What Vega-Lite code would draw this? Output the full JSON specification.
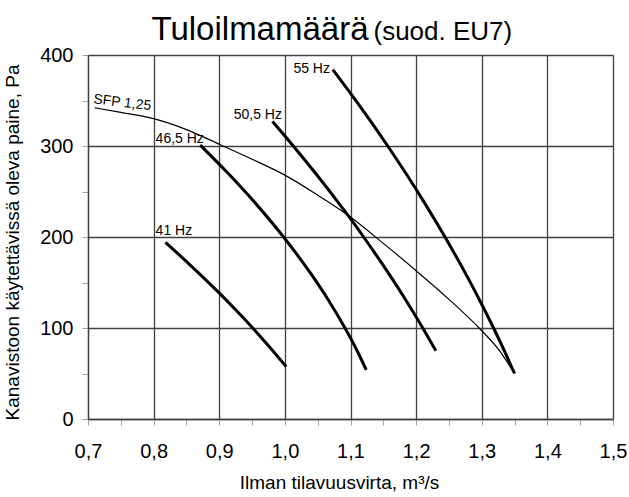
{
  "$schema": "https://vega.github.io/schema/vega-lite/v6.json",
  "autosize": "none",
  "width": 525,
  "height": 364,
  "padding": {"left": 88, "top": 55, "right": 16, "bottom": 78},
  "background": "white",
  "config": {
    "font": "Liberation Sans",
    "view": {"stroke": null},
    "axis": {"labelColor": "black", "titleColor": "black", "titleFontWeight": "normal"}
  },
  "datasets": {
    "curves": [
      {"curve": "41 Hz", "v": 0.818, "p": 194},
      {"curve": "41 Hz", "v": 0.8546, "p": 170},
      {"curve": "41 Hz", "v": 0.9006, "p": 138},
      {"curve": "41 Hz", "v": 0.925, "p": 120},
      {"curve": "41 Hz", "v": 0.951, "p": 100},
      {"curve": "41 Hz", "v": 0.9757, "p": 80},
      {"curve": "41 Hz", "v": 1.002, "p": 57.5},
      {"curve": "46,5 Hz", "v": 0.871, "p": 301},
      {"curve": "46,5 Hz", "v": 0.9134, "p": 270},
      {"curve": "46,5 Hz", "v": 0.9516, "p": 240},
      {"curve": "46,5 Hz", "v": 0.998, "p": 200},
      {"curve": "46,5 Hz", "v": 1.0393, "p": 160},
      {"curve": "46,5 Hz", "v": 1.0669, "p": 130},
      {"curve": "46,5 Hz", "v": 1.0916, "p": 100},
      {"curve": "46,5 Hz", "v": 1.1101, "p": 75},
      {"curve": "46,5 Hz", "v": 1.124, "p": 54},
      {"curve": "50,5 Hz", "v": 0.981, "p": 327},
      {"curve": "50,5 Hz", "v": 1.0128, "p": 300},
      {"curve": "50,5 Hz", "v": 1.0467, "p": 270},
      {"curve": "50,5 Hz", "v": 1.0791, "p": 240},
      {"curve": "50,5 Hz", "v": 1.098, "p": 222},
      {"curve": "50,5 Hz", "v": 1.12, "p": 200},
      {"curve": "50,5 Hz", "v": 1.1581, "p": 160},
      {"curve": "50,5 Hz", "v": 1.1849, "p": 130},
      {"curve": "50,5 Hz", "v": 1.2101, "p": 100},
      {"curve": "50,5 Hz", "v": 1.23, "p": 75},
      {"curve": "55 Hz", "v": 1.073, "p": 384},
      {"curve": "55 Hz", "v": 1.0979, "p": 360},
      {"curve": "55 Hz", "v": 1.1279, "p": 330},
      {"curve": "55 Hz", "v": 1.1567, "p": 300},
      {"curve": "55 Hz", "v": 1.1843, "p": 270},
      {"curve": "55 Hz", "v": 1.2107, "p": 240},
      {"curve": "55 Hz", "v": 1.244, "p": 200},
      {"curve": "55 Hz", "v": 1.2752, "p": 160},
      {"curve": "55 Hz", "v": 1.2972, "p": 130},
      {"curve": "55 Hz", "v": 1.318, "p": 100},
      {"curve": "55 Hz", "v": 1.3376, "p": 70},
      {"curve": "55 Hz", "v": 1.35, "p": 50},
      {"curve": "SFP 1,25", "v": 0.71, "p": 342},
      {"curve": "SFP 1,25", "v": 0.75, "p": 337},
      {"curve": "SFP 1,25", "v": 0.8, "p": 330},
      {"curve": "SFP 1,25", "v": 0.85, "p": 318},
      {"curve": "SFP 1,25", "v": 0.9, "p": 302},
      {"curve": "SFP 1,25", "v": 0.95, "p": 285.5},
      {"curve": "SFP 1,25", "v": 1.0, "p": 268},
      {"curve": "SFP 1,25", "v": 1.05, "p": 246},
      {"curve": "SFP 1,25", "v": 1.1, "p": 222},
      {"curve": "SFP 1,25", "v": 1.15, "p": 193},
      {"curve": "SFP 1,25", "v": 1.2, "p": 163},
      {"curve": "SFP 1,25", "v": 1.25, "p": 131.5},
      {"curve": "SFP 1,25", "v": 1.3, "p": 97},
      {"curve": "SFP 1,25", "v": 1.325, "p": 77},
      {"curve": "SFP 1,25", "v": 1.349, "p": 51}
    ],
    "labels": [
      {"label": "41 Hz", "v": 0.803, "p": 202},
      {"label": "46,5 Hz", "v": 0.803, "p": 303},
      {"label": "50,5 Hz", "v": 0.922, "p": 330},
      {"label": "55 Hz", "v": 1.013, "p": 380}
    ],
    "sfp": [
      {"label": "SFP 1,25", "v": 0.7076, "p": 347}
    ]
  },
  "layer": [
    {
      "data": {"name": "curves"},
      "transform": [{"filter": "datum.curve !== 'SFP 1,25'"}],
      "mark": {"type": "line", "interpolate": "monotone", "color": "black", "strokeWidth": 3, "strokeCap": "butt"},
      "encoding": {
        "x": {
          "field": "v", "type": "quantitative",
          "scale": {"domain": [0.7, 1.5], "nice": false, "zero": false},
          "axis": {
            "orient": "bottom",
            "values": [0.7, 0.75, 0.8, 0.85, 0.9, 0.95, 1.0, 1.05, 1.1, 1.15, 1.2, 1.25, 1.3, 1.35, 1.4, 1.45, 1.5],
            "labelExpr": "round(datum.value*100) % 10 === 0 ? replace(format(datum.value, '.1f'), '.', ',') : ''",
            "labelFontSize": 20,
            "labelPadding": 16,
            "labelFlush": false,
            "labelOverlap": false,
            "tickSize": 6,
            "tickColor": "#a0a0a0",
            "tickWidth": 1,
            "domainColor": "#404040",
            "domainWidth": 1.3,
            "grid": true,
            "gridColor": "#404040",
            "gridWidth": 1.3,
            "gridOpacity": {"condition": {"test": "round(datum.value*100) % 10 !== 0", "value": 0}, "value": 1},
            "title": "Ilman tilavuusvirta, m³/s",
            "titleFontSize": 19,
            "titleX": 251,
            "titleY": 69,
            "titleAlign": "center",
            "titleBaseline": "alphabetic"
          }
        },
        "y": {
          "field": "p", "type": "quantitative",
          "scale": {"domain": [0, 400], "nice": false},
          "axis": {
            "orient": "left",
            "values": [0, 50, 100, 150, 200, 250, 300, 350, 400],
            "labelExpr": "datum.value % 100 === 0 ? datum.label : ''",
            "labelFontSize": 20,
            "labelPadding": 9,
            "labelOverlap": false,
            "labelFlush": false,
            "tickSize": 6,
            "tickColor": "#a0a0a0",
            "tickWidth": 1,
            "domainColor": "#404040",
            "domainWidth": 1.3,
            "grid": true,
            "gridColor": "#404040",
            "gridWidth": 1.3,
            "gridOpacity": {"condition": {"test": "datum.value % 100 !== 0", "value": 0}, "value": 1},
            "title": "Kanavistoon käytettävissä oleva paine, Pa",
            "titleFontSize": 19,
            "titleAngle": -90,
            "titleX": -76,
            "titleY": 187,
            "titleAlign": "center",
            "titleBaseline": "middle"
          }
        },
        "detail": {"field": "curve"}
      }
    },
    {
      "data": {"name": "curves"},
      "transform": [{"filter": "datum.curve === 'SFP 1,25'"}],
      "mark": {"type": "line", "interpolate": "monotone", "color": "black", "strokeWidth": 1.2},
      "encoding": {
        "x": {"field": "v", "type": "quantitative", "axis": null},
        "y": {"field": "p", "type": "quantitative", "axis": null}
      }
    },
    {
      "data": {"name": "labels"},
      "mark": {"type": "text", "align": "left", "baseline": "alphabetic", "fontSize": 14, "color": "black"},
      "encoding": {
        "x": {"field": "v", "type": "quantitative", "axis": null},
        "y": {"field": "p", "type": "quantitative", "axis": null},
        "text": {"field": "label"}
      }
    },
    {
      "data": {"name": "sfp"},
      "mark": {"type": "text", "align": "left", "baseline": "alphabetic", "fontSize": 14, "color": "black", "angle": 7},
      "encoding": {
        "x": {"field": "v", "type": "quantitative", "axis": null},
        "y": {"field": "p", "type": "quantitative", "axis": null},
        "text": {"field": "label"}
      }
    },
    {
      "data": {"name": "sfp"},
      "mark": {"type": "point", "opacity": 0},
      "encoding": {
        "x": {
          "field": "v", "type": "quantitative",
          "scale": {"domain": [0.7, 1.5], "nice": false, "zero": false},
          "axis": {
            "orient": "top", "values": [], "labels": false,
            "ticks": false, "domain": false, "grid": false,
            "title": "Tuloilmamäärä", "titleFontSize": 33, "titleFontWeight": "normal",
            "titleX": 63, "titleY": -15.5, "titleAlign": "left", "titleBaseline": "alphabetic"
          }
        },
        "y": {
          "field": "p", "type": "quantitative",
          "scale": {"domain": [0, 400], "nice": false},
          "axis": {
            "orient": "right", "values": [], "labels": false,
            "ticks": false, "domain": false, "grid": false,
            "title": "(suod. EU7)", "titleFontSize": 26, "titleFontWeight": "normal", "titleAngle": 0,
            "titleX": -240, "titleY": -15.5, "titleAlign": "left", "titleBaseline": "alphabetic"
          }
        }
      }
    }
  ],
  "resolve": {"axis": {"x": "independent", "y": "independent"}}
}
